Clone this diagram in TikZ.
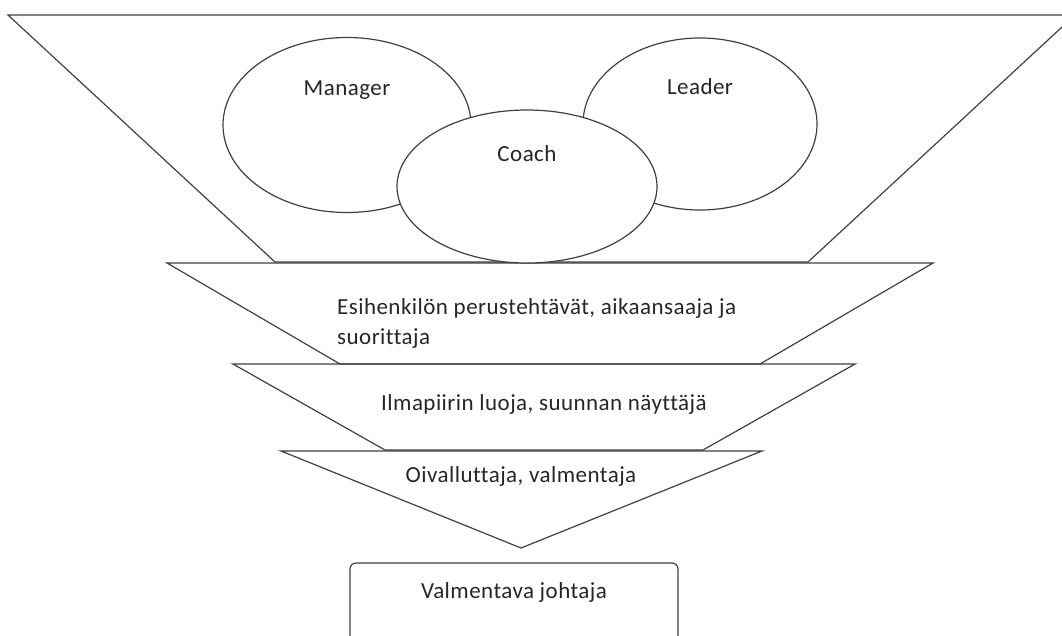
\documentclass[tikz,border=0pt]{standalone}
\usepackage{fontspec}
\setmainfont[LetterSpace=2, Ligatures=NoCommon]{Carlito}
\usepackage{tikz}
\usetikzlibrary{shapes.geometric}

\begin{document}
\begin{tikzpicture}[x=1pt, y=-1pt,
    line/.style={draw=black!75, line width=1.2pt, line join=miter},
    ell/.style={ellipse, draw=black!75, line width=1.2pt, fill=white, inner sep=0pt},
    lbl/.style={font=\fontsize{23}{27}\selectfont, text=black!85, inner sep=0pt, anchor=base},
    resbox/.style={draw=black!75, line width=1.2pt, rounded corners=6pt, fill=white}
]
\useasboundingbox (0,0) rectangle (1062,635);
\clip (0,0) rectangle (1062,635);
% funnel levels
\draw[line] (8,15) -- (1075,15) -- (808,262) -- (275,262) -- cycle;
\draw[line] (167,263) -- (933,263) -- (760,364) -- (340,364) -- cycle;
\draw[line] (233,364) -- (855,364) -- (703,450) -- (385,450) -- cycle;
\draw[line] (281,451) -- (762,451) -- (521,548) -- cycle;
% roles
\node[ell, minimum width=248pt, minimum height=175pt] (manager) at (347,125) {};
\node[ell, minimum width=234pt, minimum height=172pt] (leader)  at (700,124) {};
\node[ell, minimum width=260pt, minimum height=153pt] (coach)   at (527,186.5) {};
\node[lbl] (managerTxt) at (347,95)  {Manager};
\node[lbl] (leaderTxt)  at (700,94)  {Leader};
\node[lbl] (coachTxt)   at (527,161) {Coach};
% level texts
\node[lbl, anchor=base west] (lvlA) at (337,314) {Esihenkilön perustehtävät, aikaansaaja ja};
\node[lbl, anchor=base west] (lvlAb) at (337,344) {suorittaja};
\node[lbl] (lvlB) at (544,410) {Ilmapiirin luoja, suunnan näyttäjä};
\node[lbl] (lvlC) at (521,482) {Oivalluttaja, valmentaja};
% result
\draw[resbox] (350,563) rectangle (678,655);
\node[lbl] (result) at (514,598) {Valmentava johtaja};
\end{tikzpicture}
\end{document}
